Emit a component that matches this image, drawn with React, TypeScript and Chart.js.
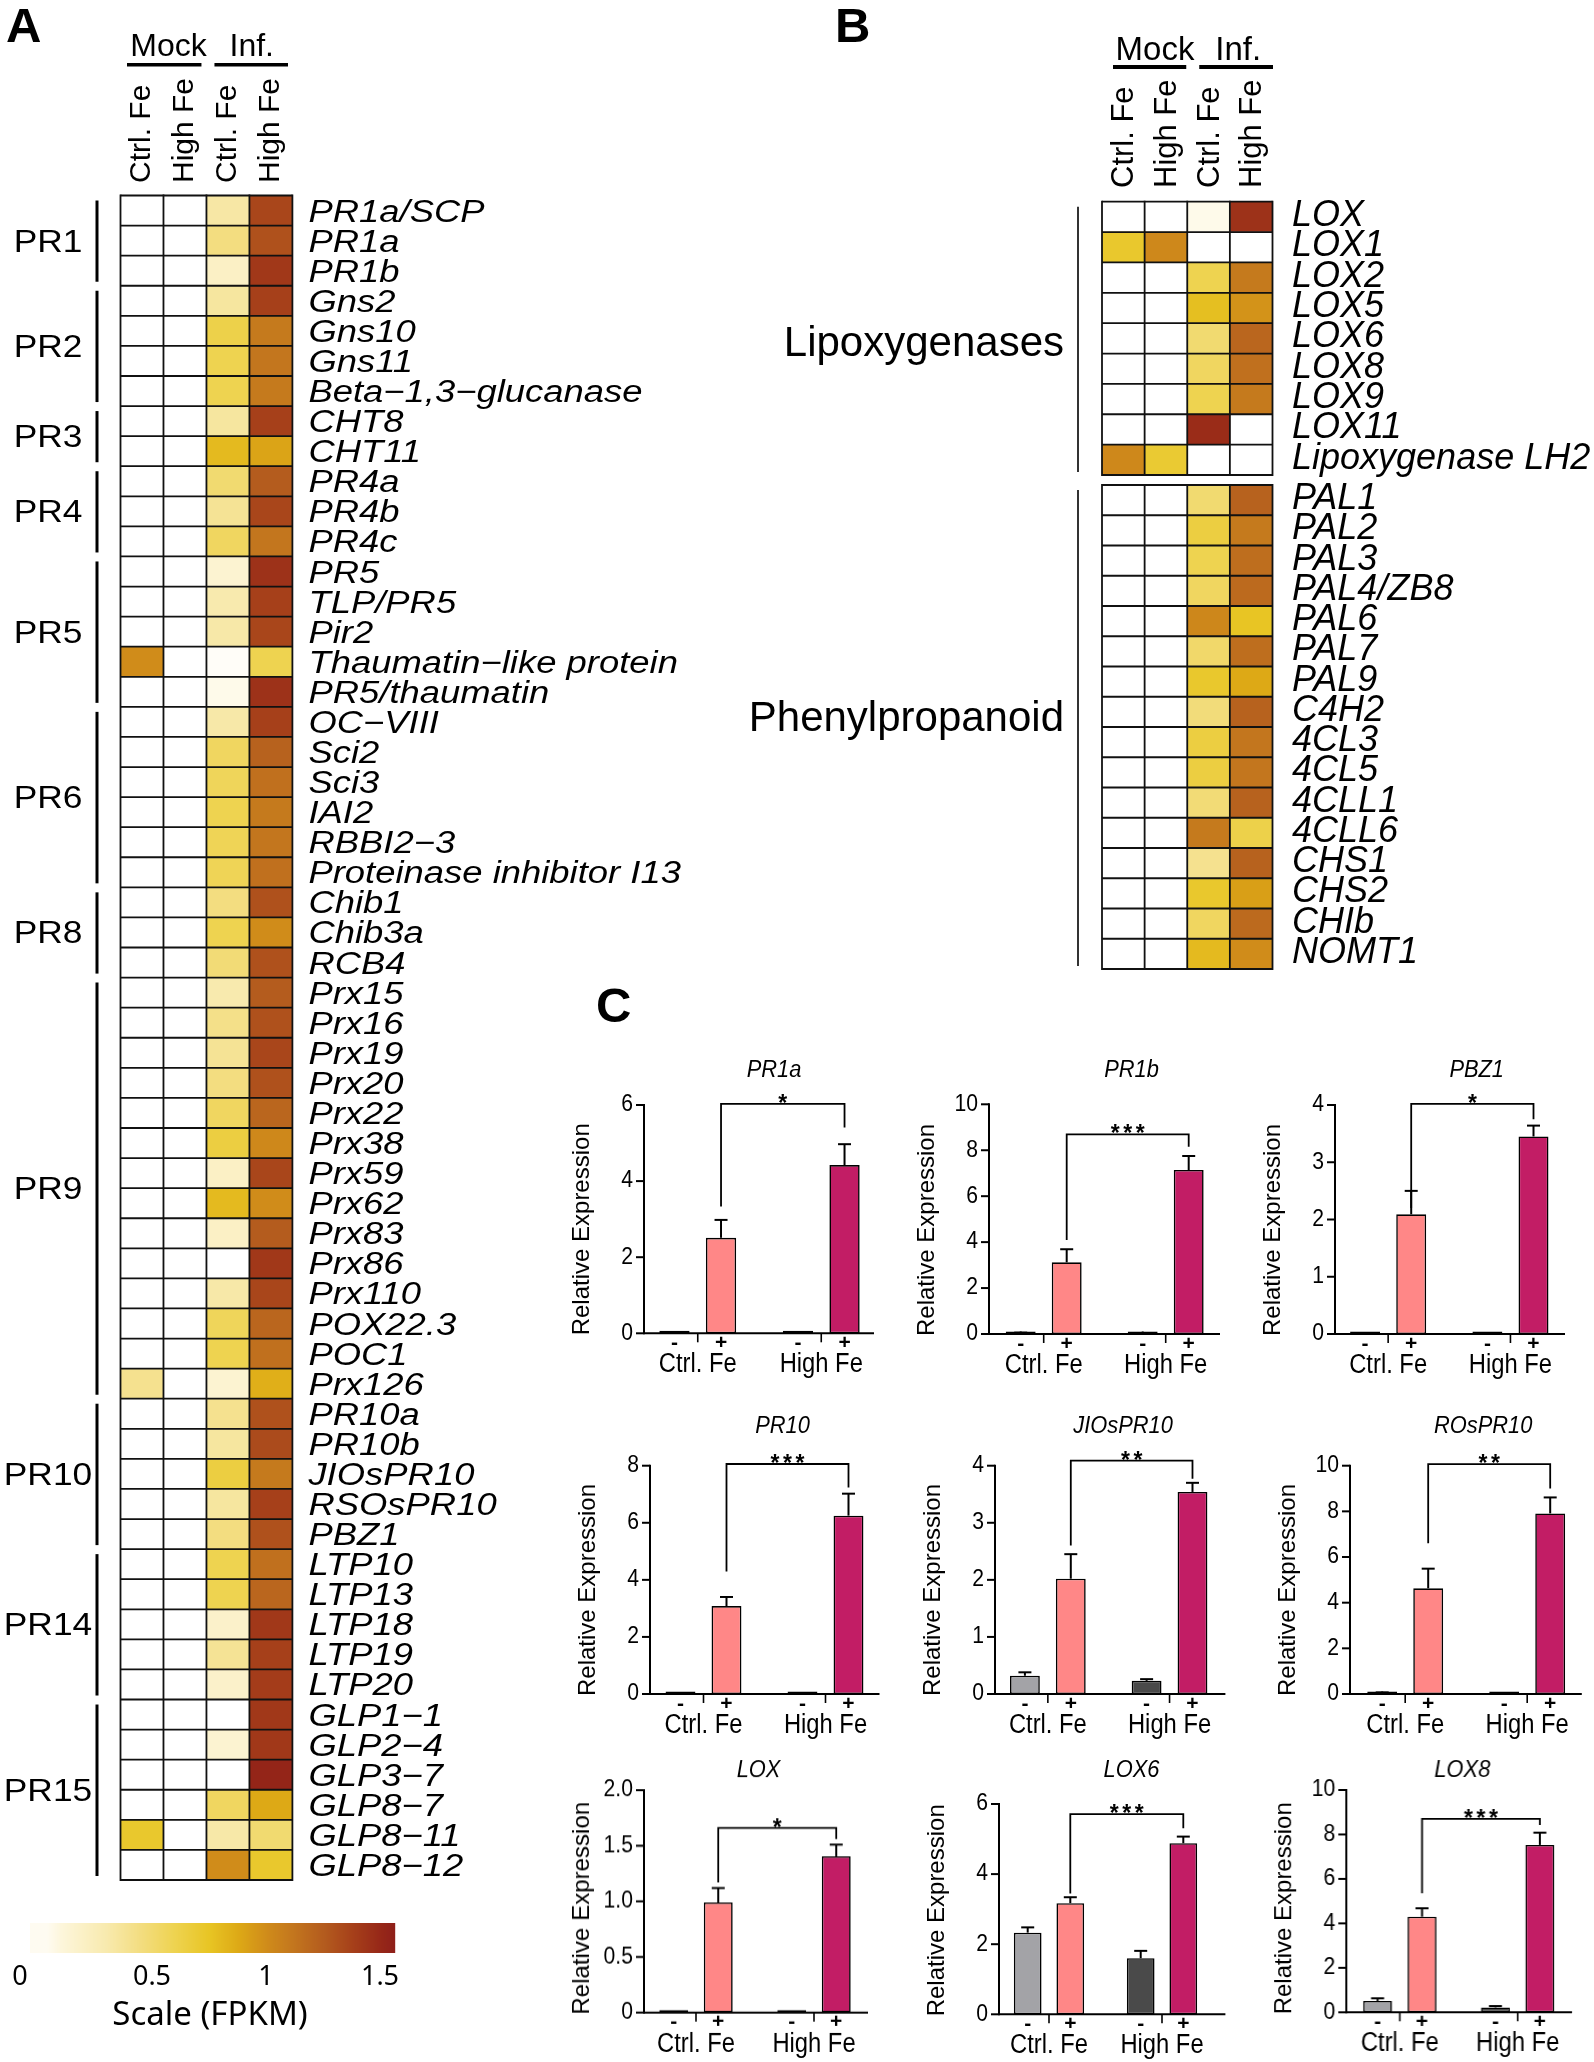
import { useEffect, useRef } from 'react';
import { Chart, registerables } from 'chart.js';
Chart.register(...registerables);

const SANS = '"Liberation Sans", Arial, Helvetica, sans-serif';
const NOTO = '"Noto Sans", "Open Sans", sans-serif';

// ---------------- Panel A data ----------------
const aGenes = [
  'PR1a/SCP', 'PR1a', 'PR1b', 'Gns2', 'Gns10', 'Gns11', 'Beta−1,3−glucanase', 'CHT8', 'CHT11',
  'PR4a', 'PR4b', 'PR4c', 'PR5', 'TLP/PR5', 'Pir2', 'Thaumatin−like protein', 'PR5/thaumatin',
  'OC−VIII', 'Sci2', 'Sci3', 'IAI2', 'RBBI2−3', 'Proteinase inhibitor I13', 'Chib1', 'Chib3a', 'RCB4',
  'Prx15', 'Prx16', 'Prx19', 'Prx20', 'Prx22', 'Prx38', 'Prx59', 'Prx62', 'Prx83', 'Prx86', 'Prx110',
  'POX22.3', 'POC1', 'Prx126', 'PR10a', 'PR10b', 'JIOsPR10', 'RSOsPR10', 'PBZ1', 'LTP10', 'LTP13',
  'LTP18', 'LTP19', 'LTP20', 'GLP1−1', 'GLP2−4', 'GLP3−7', 'GLP8−7', 'GLP8−11', 'GLP8−12',
];
const aGroupNames = ['PR1', 'PR2', 'PR3', 'PR4', 'PR5', 'PR6', 'PR8', 'PR9', 'PR10', 'PR14', 'PR15'];
const aGroupSizes = [3, 4, 2, 3, 5, 6, 3, 14, 5, 5, 6];
const aMockCtrlFe = [
  0, 0, 0, 0, 0, 0, 0, 0, 0, 0, 0, 0, 0, 0, 0, 1.0, 0, 0, 0, 0, 0, 0, 0, 0, 0, 0, 0, 0,
  0, 0, 0, 0, 0, 0, 0, 0, 0, 0, 0, 0.4, 0, 0, 0, 0, 0, 0, 0, 0, 0, 0, 0, 0, 0, 0, 0.72, 0,
];
const aMockHighFe = [
  0, 0, 0, 0, 0, 0, 0, 0, 0, 0, 0, 0, 0, 0, 0, 0, 0, 0, 0, 0, 0, 0, 0, 0, 0, 0, 0, 0,
  0, 0, 0, 0, 0, 0, 0, 0, 0, 0, 0, 0, 0, 0, 0, 0, 0, 0, 0, 0, 0, 0, 0, 0, 0, 0, 0, 0,
];
const aInfCtrlFe = [
  0.33, 0.45, 0.2, 0.35, 0.62, 0.6, 0.6, 0.35, 0.8, 0.5, 0.38, 0.55, 0.15, 0.3, 0.32, 0.02, 0.06,
  0.32, 0.55, 0.57, 0.6, 0.58, 0.58, 0.45, 0.6, 0.48, 0.3, 0.42, 0.38, 0.45, 0.55, 0.65, 0.2, 0.8,
  0.2, 0, 0.32, 0.57, 0.6, 0.15, 0.4, 0.35, 0.65, 0.35, 0.45, 0.6, 0.6, 0.18, 0.38, 0.18, 0, 0.15,
  0, 0.55, 0.32, 1.0,
];
const aInfHighFe = [
  1.35, 1.3, 1.42, 1.38, 1.1, 1.12, 1.1, 1.38, 0.9, 1.25, 1.35, 1.12, 1.45, 1.38, 1.35, 0.6, 1.45,
  1.38, 1.22, 1.15, 1.1, 1.12, 1.15, 1.3, 1.0, 1.3, 1.25, 1.3, 1.35, 1.3, 1.2, 1.02, 1.35, 1.0,
  1.25, 1.42, 1.35, 1.2, 1.15, 0.85, 1.3, 1.33, 1.1, 1.38, 1.3, 1.15, 1.2, 1.42, 1.38, 1.4, 1.42,
  1.42, 1.52, 0.88, 0.5, 0.72,
];

// ---------------- Panel B data ----------------
const bLoxGenes = ['LOX', 'LOX1', 'LOX2', 'LOX5', 'LOX6', 'LOX8', 'LOX9', 'LOX11', 'Lipoxygenase LH2'];
const bLoxMockCtrlFe = [0, 0.72, 0, 0, 0, 0, 0, 0, 1.02];
const bLoxMockHighFe = [0, 1.02, 0, 0, 0, 0, 0, 0, 0.7];
const bLoxInfCtrlFe = [0.06, 0, 0.6, 0.78, 0.5, 0.55, 0.6, 1.48, 0];
const bLoxInfHighFe = [1.45, 0, 1.1, 0.97, 1.2, 1.15, 1.1, 0, 0];
const bPheGenes = ['PAL1', 'PAL2', 'PAL3', 'PAL4/ZB8', 'PAL6', 'PAL7', 'PAL9', 'C4H2', '4CL3', '4CL5',
  '4CLL1', '4CLL6', 'CHS1', 'CHS2', 'CHIb', 'NOMT1'];
const bPheMockCtrlFe = [0, 0, 0, 0, 0, 0, 0, 0, 0, 0, 0, 0, 0, 0, 0, 0];
const bPheMockHighFe = [0, 0, 0, 0, 0, 0, 0, 0, 0, 0, 0, 0, 0, 0, 0, 0];
const bPheInfCtrlFe = [0.5, 0.65, 0.6, 0.55, 1.03, 0.52, 0.72, 0.47, 0.65, 0.65, 0.48, 1.1, 0.4, 0.72, 0.55, 0.8];
const bPheInfHighFe = [1.22, 1.1, 1.16, 1.18, 0.75, 1.16, 0.88, 1.22, 1.12, 1.12, 1.22, 0.62, 1.22, 0.92, 1.18, 1.0];

const COL_LABELS = ['Ctrl. Fe', 'High Fe', 'Ctrl. Fe', 'High Fe'];
const COND_LABELS = ['Mock', 'Inf.'];
const cbTicks = ['0', '0.5', '1', '1.5'];

// ---------------- Panel C data ----------------
// order of bars: [Ctrl. Fe −, Ctrl. Fe +, High Fe −, High Fe +]
const C_GROUPS = ['Ctrl. Fe', 'High Fe'];
const C_SIGNS = ['-', '+'];
const pr1aMean = [0.02, 2.51, 0.01, 4.42];
const pr1aErr = [0, 0.47, 0, 0.55];
const pr1aTicks = ['0', '2', '4', '6'];
const pr1aBracket = [6.03, 3.33, 5.41];
const pr1bMean = [0.05, 3.12, 0.03, 7.14];
const pr1bErr = [0.01, 0.57, 0.01, 0.61];
const pr1bTicks = ['0', '2', '4', '6', '8', '10'];
const pr1bBracket = [8.69, 4.09, 8.15];
const pbz1Mean = [0.01, 2.09, 0.01, 3.45];
const pbz1Err = [0, 0.41, 0, 0.19];
const pbz1Ticks = ['0', '1', '2', '3', '4'];
const pbz1Bracket = [4.02, 2.2, 3.75];
const pr10Mean = [0.02, 3.08, 0.03, 6.25];
const pr10Err = [0, 0.32, 0, 0.77];
const pr10Ticks = ['0', '2', '4', '6', '8'];
const pr10Bracket = [8.06, 4.29, 7.24];
const jiosMean = [0.32, 2.02, 0.23, 3.54];
const jiosErr = [0.06, 0.43, 0.03, 0.16];
const jiosTicks = ['0', '1', '2', '3', '4'];
const jiosBracket = [4.09, 2.6, 3.77];
const rosMean = [0.06, 4.63, 0.03, 7.91];
const rosErr = [0.01, 0.86, 0, 0.7];
const rosTicks = ['0', '2', '4', '6', '8', '10'];
const rosBracket = [10.07, 6.6, 9.0];
const loxMean = [0.01, 0.99, 0.01, 1.405];
const loxErr = [0, 0.13, 0, 0.105];
const loxTicks = ['0', '0.5', '1.0', '1.5', '2.0'];
const loxBracket = [1.66, 1.17, 1.56];
const lox6Mean = [2.33, 3.17, 1.6, 4.88];
const lox6Err = [0.15, 0.17, 0.21, 0.19];
const lox6Ticks = ['0', '2', '4', '6'];
const lox6Bracket = [5.71, 3.45, 5.31];
const lox8Mean = [0.51, 4.3, 0.22, 7.53];
const lox8Err = [0.12, 0.38, 0.06, 0.55];
const lox8Ticks = ['0', '2', '4', '6', '8', '10'];
const lox8Bracket = [8.7, 5.35, 8.43];

const cPanels = [
  { title: 'PR1a', mean: pr1aMean, err: pr1aErr, ticks: pr1aTicks, sig: '*', bracket: pr1aBracket },
  { title: 'PR1b', mean: pr1bMean, err: pr1bErr, ticks: pr1bTicks, sig: '***', bracket: pr1bBracket },
  { title: 'PBZ1', mean: pbz1Mean, err: pbz1Err, ticks: pbz1Ticks, sig: '*', bracket: pbz1Bracket },
  { title: 'PR10', mean: pr10Mean, err: pr10Err, ticks: pr10Ticks, sig: '***', bracket: pr10Bracket },
  { title: 'JIOsPR10', mean: jiosMean, err: jiosErr, ticks: jiosTicks, sig: '**', bracket: jiosBracket },
  { title: 'ROsPR10', mean: rosMean, err: rosErr, ticks: rosTicks, sig: '**', bracket: rosBracket },
  { title: 'LOX', mean: loxMean, err: loxErr, ticks: loxTicks, sig: '*', bracket: loxBracket },
  { title: 'LOX6', mean: lox6Mean, err: lox6Err, ticks: lox6Ticks, sig: '***', bracket: lox6Bracket },
  { title: 'LOX8', mean: lox8Mean, err: lox8Err, ticks: lox8Ticks, sig: '***', bracket: lox8Bracket },
];

// page layout of the panel C plots (pixels)
const cLayout = [
  { ax: 644, xEnd: 874, top: 1105, zero: 1333.3, plotL: 636, plotW: 247, titleX: 774, titleY: 1077 },
  { ax: 989, xEnd: 1220, top: 1104.3, zero: 1334, plotL: 982.7, plotW: 244, titleX: 1131.5, titleY: 1077 },
  { ax: 1335, xEnd: 1565, top: 1105, zero: 1334, plotL: 1327, plotW: 244.6, titleX: 1476.7, titleY: 1077 },
  { ax: 649.5, xEnd: 879, top: 1465.7, zero: 1694, plotL: 642, plotW: 244, titleX: 782, titleY: 1433 },
  { ax: 995, xEnd: 1225.4, top: 1465.7, zero: 1694, plotL: 987, plotW: 243.4, titleX: 1123, titleY: 1433 },
  { ax: 1349.8, xEnd: 1581.6, top: 1465.7, zero: 1694, plotL: 1344, plotW: 244, titleX: 1483, titleY: 1433 },
  { ax: 644, xEnd: 868, top: 1790, zero: 2011.7, plotL: 637, plotW: 236, titleX: 758.5, titleY: 1777 },
  { ax: 999, xEnd: 1225.4, top: 1804, zero: 2014.3, plotL: 992.5, plotW: 226, titleX: 1131.5, titleY: 1777 },
  { ax: 1346.4, xEnd: 1571.5, top: 1790, zero: 2012.3, plotL: 1341, plotW: 235, titleX: 1462, titleY: 1777 },
];

const GRAY_L = '#a3a3a7';
const GRAY_D = '#4a4a4a';
const PINK = '#ff8787';
const MAGENTA = '#c21d65';

// ---------------- colour scale ----------------
const HEAT_STOPS: [number, string][] = [
  [0, '#ffffff'], [0.1, '#fdf6dc'], [0.3, '#f8eaae'], [0.45, '#f3dd80'], [0.6, '#eed350'],
  [0.75, '#e8c524'], [0.88, '#dda916'], [1.0, '#d08c1a'], [1.12, '#c3761e'], [1.25, '#b45c1e'],
  [1.38, '#a6401a'], [1.5, '#972818'], [1.6, '#8a1a1a'],
];
function hex(c: string) {
  return [parseInt(c.slice(1, 3), 16), parseInt(c.slice(3, 5), 16), parseInt(c.slice(5, 7), 16)];
}
function heatColor(v: number) {
  const x = Math.max(0, Math.min(1.6, v));
  for (let i = 0; i < HEAT_STOPS.length - 1; i++) {
    const [a, ca] = HEAT_STOPS[i];
    const [b, cb] = HEAT_STOPS[i + 1];
    if (x >= a && x <= b) {
      const t = (x - a) / (b - a);
      const A = hex(ca), B = hex(cb);
      const r = A.map((q, k) => Math.round(q + (B[k] - q) * t));
      return `rgb(${r[0]},${r[1]},${r[2]})`;
    }
  }
  return HEAT_STOPS[HEAT_STOPS.length - 1][1];
}

// ---------------- drawing helpers ----------------
function txt(ctx: any, s: string, x: number, y: number, font: string, align = 'left', sx = 1, baseline = 'alphabetic', rot = 0) {
  ctx.save();
  ctx.translate(x, y);
  if (rot) ctx.rotate(rot);
  ctx.scale(sx, 1);
  ctx.font = font;
  ctx.textAlign = align;
  ctx.textBaseline = baseline;
  ctx.fillStyle = '#000';
  ctx.fillText(s, 0, 0);
  ctx.restore();
}
function line(ctx: any, x1: number, y1: number, x2: number, y2: number, w: number, color = '#000') {
  ctx.save();
  ctx.beginPath();
  ctx.moveTo(x1, y1);
  ctx.lineTo(x2, y2);
  ctx.lineWidth = w;
  ctx.strokeStyle = color;
  ctx.lineCap = 'butt';
  ctx.stroke();
  ctx.restore();
}

function heatChart(canvas: HTMLCanvasElement, genes: string[], cols: number[][], area: any, draw: (ctx: any, h: any) => void) {
  const W = canvas.width, H = canvas.height;
  return new Chart(canvas, {
    type: 'bar',
    data: {
      labels: genes,
      datasets: cols.map((vals, ci) => ({
        label: COL_LABELS[ci],
        data: vals.map(() => 1),
        backgroundColor: vals.map(heatColor),
        borderWidth: 0,
        barPercentage: 1,
        categoryPercentage: 1,
      })),
    },
    options: {
      indexAxis: 'y',
      animation: false,
      responsive: false,
      devicePixelRatio: 1,
      events: [],
      layout: { padding: { left: area.l, top: area.t, right: W - area.r, bottom: H - area.b } },
      scales: {
        x: { type: 'linear', stacked: true, min: 0, max: 4, display: false },
        y: { type: 'category', stacked: true, display: false },
      },
      plugins: { legend: { display: false }, tooltip: { enabled: false } },
    } as any,
    plugins: [{
      id: 'heatDecor',
      afterDatasetsDraw(chart: any) {
        const ctx = chart.ctx;
        const xs = (i: number) => chart.scales.x.getPixelForValue(i);
        const ysc = chart.scales.y;
        const band = genes.length > 1 ? ysc.getPixelForValue(1) - ysc.getPixelForValue(0) : chart.chartArea.height;
        const rowC = (i: number) => ysc.getPixelForValue(i);
        const rowEdge = (i: number) => ysc.getPixelForValue(0) - band / 2 + i * band;
        const n = genes.length;
        for (let c = 0; c <= 4; c++) line(ctx, xs(c), rowEdge(0) - 0.9, xs(c), rowEdge(n) + 0.9, 1.8, '#111');
        for (let r = 0; r <= n; r++) line(ctx, xs(0), rowEdge(r), xs(4), rowEdge(r), 1.8, '#111');
        draw(ctx, { xs, rowC, rowEdge, n, area: chart.chartArea });
      },
    }],
  });
}

function barChart(canvas: HTMLCanvasElement, p: any, L: any, left: number, top: number) {
  const W = canvas.width, H = canvas.height;
  const X = (v: number) => v - left;
  const Y = (v: number) => v - top;
  const tickVals = p.ticks.map((t: string) => parseFloat(t));
  const ds = (di: number) => ({
    label: C_SIGNS[di],
    data: [p.mean[di], p.mean[2 + di]],
    backgroundColor: di === 0 ? [GRAY_L, GRAY_D] : [PINK, MAGENTA],
    borderColor: '#000',
    borderWidth: 1.6,
    borderSkipped: false,
    minBarLength: 2.5,
    categoryPercentage: 0.754,
    barPercentage: 0.65,
  });
  return new Chart(canvas, {
    type: 'bar',
    data: { labels: C_GROUPS, datasets: [ds(0), ds(1)] },
    options: {
      animation: false,
      responsive: false,
      devicePixelRatio: 1,
      events: [],
      layout: { padding: { left: X(L.plotL), right: W - X(L.plotL + L.plotW), top: Y(L.top), bottom: H - Y(L.zero) } },
      scales: {
        x: { type: 'category', display: false, offset: true },
        y: { type: 'linear', min: 0, max: tickVals[tickVals.length - 1], display: false },
      },
      plugins: { legend: { display: false }, tooltip: { enabled: false } },
    } as any,
    plugins: [{
      id: 'cDecor',
      afterDatasetsDraw(chart: any) {
        const ctx = chart.ctx;
        const ys = chart.scales.y;
        const xsc = chart.scales.x;
        const ax = X(L.ax);
        const z = ys.getPixelForValue(0);
        // error bars
        [0, 1].forEach((di) => {
          chart.getDatasetMeta(di).data.forEach((el: any, j: number) => {
            const k = j * 2 + di;
            const e = p.err[k];
            if (!(e > 0)) return;
            const yt = ys.getPixelForValue(p.mean[k] + e);
            line(ctx, el.x, el.y, el.x, yt, 2);
            line(ctx, el.x - 6.5, yt, el.x + 6.5, yt, 2);
          });
        });
        // axes
        const yTop = ys.getPixelForValue(tickVals[tickVals.length - 1]);
        line(ctx, ax, z + 1, ax, yTop - 1, 2);
        line(ctx, ax, z, X(L.xEnd), z, 2);
        tickVals.forEach((v: number, i: number) => {
          const y = ys.getPixelForValue(v);
          line(ctx, ax - 8, y, ax, y, 2);
          txt(ctx, p.ticks[i], ax - 11, y, `23px ${SANS}`, 'right', 0.92, 'middle');
        });
        txt(ctx, 'Relative Expression', ax - 62, z - 104, `24px ${SANS}`, 'center', 1, 'middle', -Math.PI / 2);
        // title
        txt(ctx, p.title, X(L.titleX), Y(L.titleY), `italic 23px ${SANS}`, 'center', 0.95);
        // significance bracket
        const plus = chart.getDatasetMeta(1).data;
        const lx = plus[0].x, rx = plus[1].x;
        const yb = ys.getPixelForValue(p.bracket[0]);
        ctx.save();
        ctx.beginPath();
        ctx.moveTo(lx, ys.getPixelForValue(p.bracket[1]));
        ctx.lineTo(lx, yb);
        ctx.lineTo(rx, yb);
        ctx.lineTo(rx, ys.getPixelForValue(p.bracket[2]));
        ctx.lineWidth = 1.8;
        ctx.strokeStyle = '#000';
        ctx.stroke();
        ctx.restore();
        const nStar = p.sig.length;
        for (let s = 0; s < nStar; s++) {
          const sx = (lx + rx) / 2 + (s - (nStar - 1) / 2) * 12.5;
          txt(ctx, '*', sx, yb + 7, `bold 23px ${SANS}`, 'center');
        }
        // x labels
        [0, 1].forEach((di) => {
          chart.getDatasetMeta(di).data.forEach((el: any) => {
            txt(ctx, C_SIGNS[di], el.x, z + 10, `bold 21px ${SANS}`, 'center', 1, 'middle');
          });
        });
        C_GROUPS.forEach((g, j) => {
          const gx = xsc.getPixelForValue(j);
          line(ctx, gx, z, gx, z + 9, 1.6);
          txt(ctx, g, gx, z + 39, `27px ${SANS}`, 'center', 0.88);
        });
      },
    }],
  });
}

export default function App() {
  const aRef = useRef<HTMLCanvasElement>(null);
  const b1Ref = useRef<HTMLCanvasElement>(null);
  const b2Ref = useRef<HTMLCanvasElement>(null);
  const cRefs = useRef<(HTMLCanvasElement | null)[]>([]);

  const cCanvas = cLayout.map((L) => {
    const left = L.ax - 100;
    const top = L.titleY - 32;
    const width = Math.min(350, 1594 - left);
    const height = L.zero + 56 - top;
    return { left, top, width, height };
  });

  useEffect(() => {
    const charts: Chart[] = [];
    // ---------- Panel A ----------
    charts.push(heatChart(aRef.current!, aGenes, [aMockCtrlFe, aMockHighFe, aInfCtrlFe, aInfHighFe],
      { l: 120.5, t: 195.5, r: 292.4, b: 1880 }, (ctx, h) => {
        aGenes.forEach((g, i) => txt(ctx, g, h.xs(4) + 16, h.rowC(i) + 11, `italic 31px ${SANS}`, 'left', 1.175));
        let s = 0;
        aGroupNames.forEach((name, gi) => {
          const n = aGroupSizes[gi];
          const y0 = h.rowEdge(s), y1 = h.rowEdge(s + n);
          line(ctx, 97, y0 + 5, 97, y1 - 4, 3);
          txt(ctx, name, 48, (y0 + y1) / 2 + 11, `31px ${SANS}`, 'center', 1.14);
          s += n;
        });
        COL_LABELS.forEach((c, ci) => txt(ctx, c, (h.xs(ci) + h.xs(ci + 1)) / 2 + 8, 183, `30px ${SANS}`, 'left', 1, 'alphabetic', -Math.PI / 2));
        txt(ctx, COND_LABELS[0], h.xs(0) + 48, 56, `32px ${SANS}`, 'center');
        txt(ctx, COND_LABELS[1], h.xs(2) + 45.3, 56, `32px ${SANS}`, 'center');
        line(ctx, h.xs(0) + 6.5, 64.7, h.xs(2) - 5, 64.7, 3.5);
        line(ctx, h.xs(2) + 8, 64.7, h.xs(4) - 4.4, 64.7, 3.5);
        txt(ctx, 'A', 6, 42, `bold 49px ${SANS}`, 'left');
        txt(ctx, 'C', 596, 1021.5, `bold 49px ${SANS}`, 'left');
        // colour bar
        for (let px = 30; px < 395; px++) {
          const v = (px + 0.5 - 38) / 228;
          ctx.fillStyle = heatColor(Math.max(v, 0.04));
          ctx.fillRect(px, 1923, 1.2, 30);
        }
        cbTicks.forEach((t) => {
          const v = parseFloat(t);
          const x = v === 0 ? 20 : 38 + 228 * v;
          txt(ctx, t, x, 1985, `27px ${NOTO}`, 'center');
        });
        txt(ctx, 'Scale (FPKM)', 210, 2025, `33px ${NOTO}`, 'center');
      }));

    // ---------- Panel B ----------
    const bDraw = (label: string, labelDy: number, header: boolean) => (ctx: any, h: any) => {
      const genes = header ? bLoxGenes : bPheGenes;
      genes.forEach((g, i) => txt(ctx, g, h.xs(4) + 19.5, h.rowC(i) + 9, `italic 36px ${SANS}`, 'left'));
      const top = h.rowEdge(0), bot = h.rowEdge(h.n);
      line(ctx, h.xs(0) - 24, top + 5, h.xs(0) - 24, bot - 3, 2, '#333');
      txt(ctx, label, h.xs(0) - 38, (top + bot) / 2 + labelDy, `42px ${SANS}`, 'right');
      if (header) {
        COL_LABELS.forEach((c, ci) => txt(ctx, c, (h.xs(ci) + h.xs(ci + 1)) / 2 + 10, 188, `31px ${SANS}`, 'left', 1, 'alphabetic', -Math.PI / 2));
        txt(ctx, COND_LABELS[0], h.xs(0) + 53, 60, `34px ${SANS}`, 'center', 0.97);
        txt(ctx, COND_LABELS[1], h.xs(2) + 51, 60, `34px ${SANS}`, 'center', 0.97);
        line(ctx, h.xs(0) + 11, 67, h.xs(2) - 1, 67, 4);
        line(ctx, h.xs(2) + 12, 67, h.xs(4) + 0.5, 67, 4);
        txt(ctx, 'B', 105, 42, `bold 49px ${SANS}`, 'left');
      }
    };
    charts.push(heatChart(b1Ref.current!, bLoxGenes, [bLoxMockCtrlFe, bLoxMockHighFe, bLoxInfCtrlFe, bLoxInfHighFe],
      { l: 372, t: 201.7, r: 542.5, b: 475 }, bDraw('Lipoxygenases', 17.6, true)));
    charts.push(heatChart(b2Ref.current!, bPheGenes, [bPheMockCtrlFe, bPheMockHighFe, bPheInfCtrlFe, bPheInfHighFe],
      { l: 372, t: 7, r: 542.5, b: 491 }, bDraw('Phenylpropanoid', 4, false)));

    // ---------- Panel C ----------
    cPanels.forEach((p, i) => {
      const cv = cRefs.current[i];
      if (cv) charts.push(barChart(cv, p, cLayout[i], cCanvas[i].left, cCanvas[i].top));
    });

    return () => charts.forEach((c) => c.destroy());
  }, []);

  const abs = (l: number, t: number, w: number, h: number): any => ({ position: 'absolute', left: l, top: t, width: w, height: h });

  return (
    <div style={{ position: 'absolute', left: 0, top: 0, width: 1594, height: 2062, overflow: 'hidden', background: '#fff' }}>
      <canvas ref={aRef} width={700} height={2062} style={abs(0, 0, 700, 2062)} />
      <canvas ref={b1Ref} width={864} height={478} style={abs(730, 0, 864, 478)} />
      <canvas ref={b2Ref} width={864} height={500} style={abs(730, 478, 864, 500)} />
      {cCanvas.map((c, i) => (
        <canvas
          key={i}
          ref={(el) => { cRefs.current[i] = el; }}
          width={c.width}
          height={c.height}
          style={abs(c.left, c.top, c.width, c.height)}
        />
      ))}
    </div>
  );
}
